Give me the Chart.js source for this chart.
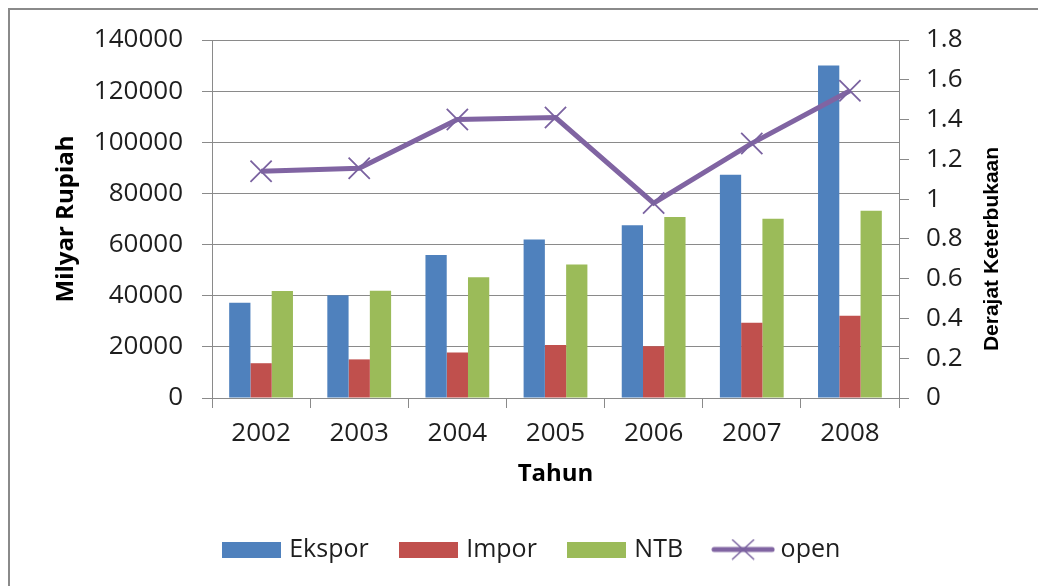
<!DOCTYPE html>
<html>
<head>
<meta charset="utf-8">
<script src="https://cdn.jsdelivr.net/npm/chart.js@4"></script>
<style>
  body { margin: 0; background: #fff; }
  #bingkai {
    position: absolute; left: 8px; top: 8px; width: 1100px; height: 700px;
    border-left: 2px solid #8a8a8a; border-top: 2px solid #8a8a8a;
  }
  #wadah { position: absolute; left: 0; top: 0; width: 1038px; height: 586px; }
</style>
</head>
<body>
<div id="bingkai"></div>
<div id="wadah"><canvas id="myChart"></canvas></div>
<script>
const tahun = ["2002", "2003", "2004", "2005", "2006", "2007", "2008"];
const ekspor = [37200, 40200, 55900, 62000, 67600, 87300, 130000];
const impor = [13600, 15100, 17800, 20700, 20200, 29400, 32200];
const ntb = [41800, 41900, 47200, 52200, 70800, 70100, 73200];
const open = [1.14, 1.155, 1.40, 1.41, 0.98, 1.28, 1.545];

const tickKiri = [0, 20000, 40000, 60000, 80000, 100000, 120000, 140000];
const tickKanan = [0, 0.2, 0.4, 0.6, 0.8, 1, 1.2, 1.4, 1.6, 1.8];

const abu = "#8a8a8a";
const teks = "#1e1e1e";

// kotak warna untuk legenda
function kotak(warna) {
  const c = document.createElement("canvas");
  c.width = 59;
  c.height = 16;
  const g = c.getContext("2d");
  g.fillStyle = warna;
  g.fillRect(0, 0, 59, 16);
  return c;
}

// garis ungu dengan tanda silang untuk legenda "open"
function garisSilang() {
  const c = document.createElement("canvas");
  c.width = 64;
  c.height = 22;
  const g = c.getContext("2d");
  g.strokeStyle = "#8064a2";
  g.lineWidth = 5;
  g.lineCap = "round";
  g.beginPath();
  g.moveTo(3, 11);
  g.lineTo(61, 11);
  g.stroke();
  g.strokeStyle = "#7a62a0";
  g.lineWidth = 1.5;
  g.lineCap = "butt";
  g.beginPath();
  g.moveTo(21, 1);
  g.lineTo(43, 21);
  g.moveTo(43, 1);
  g.lineTo(21, 21);
  g.stroke();
  return c;
}

const gambarLegenda = [kotak("#4f81bd"), kotak("#c0504d"), kotak("#9bbb59"), garisSilang()];

// judul sumbu kanan, dibaca dari bawah ke atas
const judulKanan = {
  id: "judulKanan",
  afterDraw(chart) {
    const ctx = chart.ctx;
    const a = chart.chartArea;
    ctx.save();
    ctx.translate(a.right + 93, (a.top + a.bottom) / 2 + 30);
    ctx.rotate(-Math.PI / 2);
    ctx.font = "bold 21px 'Liberation Sans'";
    ctx.fillStyle = "#000";
    ctx.textAlign = "center";
    ctx.textBaseline = "middle";
    ctx.fillText("Derajat Keterbukaan", 0, 0);
    ctx.restore();
  },
};

const ctx = document.getElementById("myChart");
new Chart(ctx, {
  data: {
    labels: tahun,
    datasets: [
      { type: "bar", label: "Ekspor", data: ekspor, backgroundColor: "#4f81bd", yAxisID: "y" },
      { type: "bar", label: "Impor", data: impor, backgroundColor: "#c0504d", yAxisID: "y" },
      { type: "bar", label: "NTB", data: ntb, backgroundColor: "#9bbb59", yAxisID: "y" },
      {
        type: "line",
        label: "open",
        data: open,
        yAxisID: "y1",
        order: -1,
        borderColor: "#8064a2",
        borderWidth: 5,
        tension: 0,
        pointStyle: "crossRot",
        pointRadius: 15,
        pointBorderWidth: 1.8,
        pointBorderColor: "#7a62a0",
        pointBackgroundColor: "#7a62a0",
      },
    ],
  },
  options: {
    responsive: true,
    maintainAspectRatio: false,
    animation: false,
    datasets: {
      bar: { categoryPercentage: 0.65, barPercentage: 1.0 },
    },
    layout: { padding: { left: 48, right: 19, top: 40, bottom: 14 } },
    plugins: {
      tooltip: { enabled: false },
      legend: {
        position: "bottom",
        labels: {
          usePointStyle: true,
          pointStyleWidth: 50,
          padding: 35,
          color: teks,
          font: { family: "'Open Sans'", size: 25 },
          sort: (a, b) => a.datasetIndex - b.datasetIndex,
          generateLabels(chart) {
            const items = Chart.defaults.plugins.legend.labels.generateLabels(chart);
            items.forEach((it) => {
              it.pointStyle = gambarLegenda[it.datasetIndex];
            });
            return items;
          },
        },
      },
    },
    scales: {
      x: {
        offset: true,
        afterFit: (s) => { s.height = 104; },
        grid: { offset: true, drawOnChartArea: false, tickLength: 10, color: abu },
        border: { color: abu },
        ticks: { color: teks, padding: 10, font: { family: "'Open Sans'", size: 26 } },
        title: {
          display: true,
          text: "Tahun",
          color: "#000",
          padding: { top: 4, bottom: 13 },
          font: { family: "'Open Sans'", size: 24, weight: "bold" },
        },
      },
      y: {
        position: "left",
        min: 0,
        max: 140000,
        afterFit: (s) => { s.width = 164; },
        afterBuildTicks: (s) => { s.ticks = tickKiri.map((v) => ({ value: v })); },
        grid: { color: abu, tickLength: 10 },
        border: { color: abu },
        ticks: {
          color: teks,
          padding: 19,
          font: { family: "'Open Sans'", size: 26 },
          callback: (v) => String(v),
        },
        title: {
          display: true,
          text: "Milyar Rupiah",
          color: "#000",
          padding: { top: 4, bottom: 4 },
          font: { family: "'Open Sans'", size: 24, weight: "bold" },
        },
      },
      y1: {
        position: "right",
        min: 0,
        max: 1.8,
        afterFit: (s) => { s.width = 120; },
        afterBuildTicks: (s) => { s.ticks = tickKanan.map((v) => ({ value: v })); },
        grid: { drawOnChartArea: false, color: abu, tickLength: 10 },
        border: { color: abu },
        ticks: {
          color: teks,
          padding: 17,
          font: { family: "'Open Sans'", size: 26 },
          callback: (v) => String(Number(v.toFixed(1))),
        },
      },
    },
  },
  plugins: [judulKanan],
});
</script>
</body>
</html>
